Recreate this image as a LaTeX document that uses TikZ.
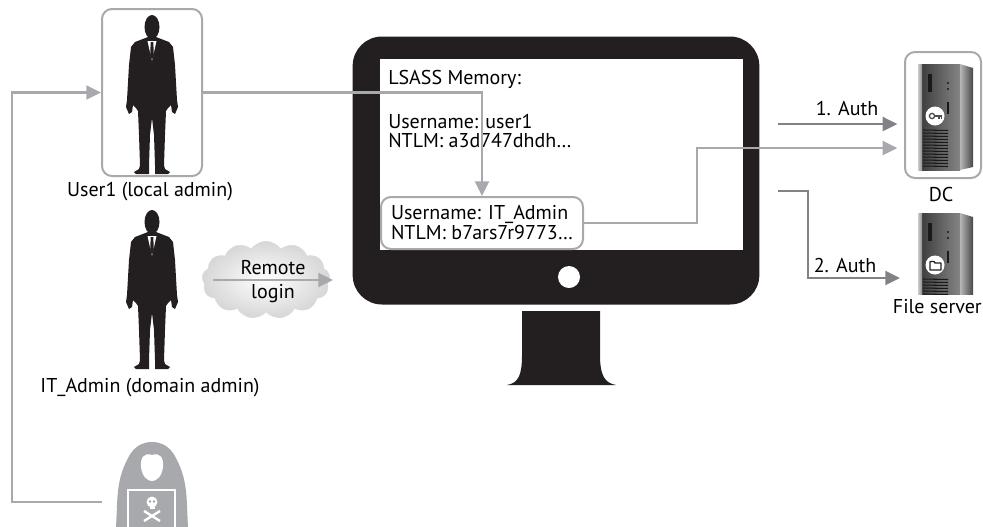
\documentclass[tikz,border=0pt]{standalone}
\usepackage{fontspec}
\setmainfont{PT Sans}
\usetikzlibrary{arrows.meta,shapes.symbols,calc}
\definecolor{ink}{HTML}{231F20}
\definecolor{linegray}{HTML}{A7A9AC}
\definecolor{authgray}{HTML}{808285}

% suited figure: #1 = centre x, #2 = top of head
\newcommand\suitman[2]{%
  \begin{scope}[shift={(#1,#2)}]
    \fill[ink] (0,12) ellipse [x radius=7.5, y radius=12];
    \fill[ink] (-4,22) -- (-17,27) -- (-21,32) -- (-23,50) -- (-25,85) -- (-26,92)
      -- (-23,99) -- (-20,97) -- (-19,90) -- (-16,93) -- (-14,96) -- (-13,120)
      -- (-12,150) -- (-13,154) -- (-18,157) -- (-16,159) -- (-3,159) -- (-3,150)
      -- (-2,120) -- (0,103) -- (2,120) -- (3,150) -- (3,159) -- (16,159) -- (18,157)
      -- (13,154) -- (12,150) -- (13,120) -- (14,96) -- (16,93) -- (19,90) -- (20,97)
      -- (23,99) -- (26,92) -- (25,85) -- (23,50) -- (21,32) -- (17,27) -- (4,22) -- cycle;
    \fill[white] (-4.5,26) -- (4.5,26) -- (0,46) -- cycle;
    \fill[ink] (-1.3,27) -- (1.3,27) -- (1.8,40) -- (0,45) -- (-1.8,40) -- cycle;
  \end{scope}}

% tower server: #1,#2 = top-left corner of the front panel, #3 = badge drawing
\newcommand\servertower[3]{%
  \begin{scope}[shift={(#1,#2)}]
    \shade[left color=black!78, right color=black!48] (0,0) rectangle (42,106);
    \shade[left color=black!20, right color=black!45] (0,0) rectangle (4,106);
    \shade[left color=black!28, right color=black!72] (42,0) -- (55,4) -- (55,103) -- (42,106) -- cycle;
    \fill[black!90] (10,10) rectangle (14,28);
    \fill[black!90] (30,19) circle [radius=1.1];
    \fill[black!90] (30,25) circle [radius=1.1];
    \fill[black!90] (29,38) rectangle (30.5,50);
    \foreach \gy in {66,69,...,104} \draw[black!90, line width=0.8pt] (5,\gy) -- (30,\gy+0.5);
    \fill[white] (17,52) circle [radius=9.5];
    #3
  \end{scope}}

\begin{document}
\begin{tikzpicture}[x=0.75pt,y=-0.75pt,
  font=\fontsize{15}{15}\selectfont,
  conn/.style={draw=linegray, line width=1.6pt},
  authline/.style={draw=authgray, line width=1.6pt},
  tip/.style={-{Triangle[length=11pt,width=10.5pt]}},
  framebox/.style={draw=linegray, line width=1.5pt, rounded corners=7.5pt},
  label/.style={inner sep=0pt},
  screentext/.style={inner sep=0pt, anchor=base west}]
\useasboundingbox (0,0) rectangle (983,526);

% ---- people ----
\node[framebox, minimum width=75pt, minimum height=125.25pt] (user1box) at (152,92.5) {};
\suitman{152}{15}
\node[label] (u1label) at (150,192) {User1 (local admin)};

\suitman{152}{210}
\node[label] (itlabel) at (150,388) {IT\_Admin (domain admin)};

% ---- attacker ----
\begin{scope}
  \clip (0,0) rectangle (983,526);
  \fill[linegray] (116,528) -- (117,505) .. controls (118,480) and (122,470) .. (128,458)
    .. controls (134,446) and (143,442) .. (152,442)
    .. controls (161,442) and (170,446) .. (176,458)
    .. controls (182,470) and (186,480) .. (187,505) -- (188,528) -- cycle;
  \fill[white] (152,455) .. controls (160,452) and (164,458) .. (163,467)
    .. controls (162,476) and (157,481) .. (152,481)
    .. controls (147,481) and (142,476) .. (141,467)
    .. controls (140,458) and (144,452) .. (152,455) -- cycle;
  \fill[linegray, draw=white, line width=0.8pt] (128,490) rectangle (175,530);
  \fill[white] (152,502) circle [radius=5.5];
  \fill[white] (149.5,506) rectangle (154.5,509);
  \fill[linegray] (150,501.5) circle [radius=1.3];
  \fill[linegray] (154,501.5) circle [radius=1.3];
  \draw[white, line width=1.8pt] (144,511) -- (160,521);
  \draw[white, line width=1.8pt] (144,521) -- (160,511);
\end{scope}
\coordinate (hackerleft) at (102,502);
\coordinate (loopcorner) at (12,502);

% ---- remote login cloud ----
\node[cloud, cloud puffs=13, cloud puff arc=110, aspect=1.7, draw=black!14,
  inner color=white, outer color=black!16, minimum width=96pt, minimum height=58pt] (cloud) at (266,280) {};
\node[label] (remote) at (273,268) {Remote};
\node[label] (login) at (273,294) {login};
\coordinate (rlstart) at (213,280);
\coordinate (rlend) at (333,280);

% ---- workstation ----
\node[fill=ink, rounded corners=22pt, minimum width=305pt, minimum height=201pt] (monitor) at (556,170.5) {};
\node[fill=white, minimum width=272pt, minimum height=143pt, inner sep=0pt] (screen) at (561.5,154.5) {};
\fill[white] (569,277) circle [radius=11];
\fill[ink] (522,311) -- (600,311) -- (600,355) .. controls (600,376) and (605,383) .. (616,385)
  -- (507,385) .. controls (518,383) and (522,376) .. (522,355) -- cycle;

\node[screentext] (lsass) at (388,84) {LSASS Memory:};
\node[screentext] (user1name) at (388,128) {Username: user1};
\node[screentext] (user1hash) at (388,147) {NTLM: a3d747dhdh…};
\node[framebox, minimum width=151.5pt, minimum height=39pt, align=left, inner sep=0pt] (itbox) at (482,223)
  {Username: IT\_Admin\\NTLM: b7ars7r9773…};

% ---- servers ----
\node[framebox, minimum width=57pt, minimum height=94.5pt] (dcbox) at (943,115) {};
\servertower{918}{64}{%
  \draw[black!70, line width=1pt] (14,52) circle [radius=2.6];
  \draw[black!70, line width=1.3pt] (16.6,52) -- (24,52) (21,52) -- (21,54.5) (23.5,52) -- (23.5,54.5);}
\node[label] (dclabel) at (941,194) {DC};

\begin{scope}
  \clip (880,200) rectangle (983,294);
  \servertower{918}{213}{%
    \draw[ink, line width=1pt, line join=round] (12,49) -- (12,57) -- (23,57) -- (23,50) -- (17,50) -- (16,48.5) -- (12.5,48.5) -- cycle;}
\end{scope}
\coordinate (fsin) at (900,278);
\node[label, anchor=east] (fslabel) at (982,307) {File server};

% ---- connectors ----
\draw[conn, tip] (hackerleft) -- (loopcorner) |- (user1box.west);
\draw[conn, tip] (user1box.east) -| (itbox.north);
\draw[conn, tip, shorten >=5pt] (itbox.east) -- ++(113,0) |- (dcbox.west |- 0,148);
\draw[conn, tip] (rlstart) -- (rlend);

\coordinate (auth1start) at (778,124);
\coordinate (auth2start) at (778,191);
\draw[authline, tip, shorten >=5pt] (auth1start) -- (dcbox.west |- auth1start);
\node[label] (auth1) at (847,108) {1. Auth};
\draw[authline, tip] (auth2start) -- ++(30,0) |- (fsin);
\node[label] (auth2) at (845,265) {2. Auth};
\end{tikzpicture}
\end{document}
